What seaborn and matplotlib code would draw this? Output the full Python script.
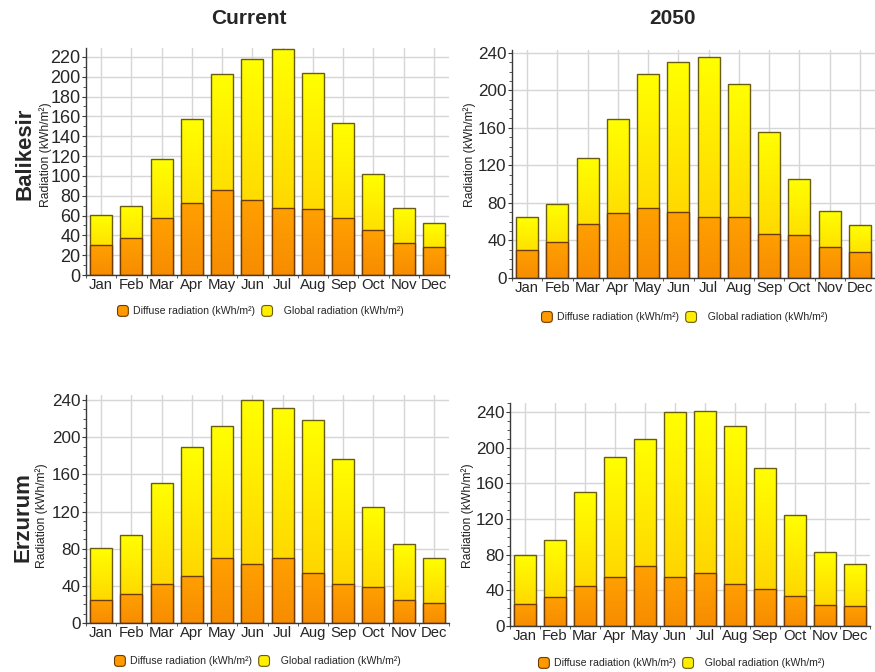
import numpy as np
import pandas as pd
import matplotlib
matplotlib.use("Agg")
import matplotlib.pyplot as plt
import seaborn as sns
from matplotlib.patches import FancyBboxPatch, Patch
from matplotlib.legend_handler import HandlerPatch
from matplotlib.ticker import MultipleLocator, FixedLocator
from matplotlib.colors import LinearSegmentedColormap

# Monthly radiation totals (kWh/m2)
months = ["Jan", "Feb", "Mar", "Apr", "May", "Jun",
          "Jul", "Aug", "Sep", "Oct", "Nov", "Dec"]

balikesir_current_global = [61, 70, 117, 157, 203, 218, 228, 204, 153, 102, 68, 52]
balikesir_current_diffuse = [30, 37, 57, 73, 86, 76, 68, 67, 57, 45, 32, 28]

balikesir_2050_global = [65, 79, 128, 169, 217, 230, 236, 207, 156, 106, 71, 56]
balikesir_2050_diffuse = [30, 38, 58, 69, 75, 70, 65, 65, 47, 46, 33, 28]

erzurum_current_global = [81, 95, 151, 189, 212, 240, 232, 219, 177, 125, 85, 70]
erzurum_current_diffuse = [25, 31, 42, 51, 70, 63, 70, 54, 42, 39, 25, 22]

erzurum_2050_global = [80, 96, 150, 190, 210, 240, 241, 224, 177, 124, 83, 69]
erzurum_2050_diffuse = [25, 33, 45, 55, 67, 55, 59, 47, 42, 34, 24, 22]

column_titles = ["Current", "2050"]
row_titles = ["Balikesir", "Erzurum"]
y_label = "Radiation (kWh/m²)"
diffuse_label = "Diffuse radiation (kWh/m²)"
global_label = "  Global radiation (kWh/m²)"

sns.set_style("white")
plt.rcParams["font.family"] = ["Liberation Sans", "DejaVu Sans"]

W, H = 875, 672
fig = plt.figure(figsize=(W / 100, H / 100), dpi=100)


def fx(px):
    return px / W


def fy(py):
    return 1 - py / H


YELLOW_TOP, YELLOW_BOT = "#ffff00", "#ffc800"
ORANGE_TOP, ORANGE_BOT = "#ffa000", "#f78c00"
YELLOW_EDGE, ORANGE_EDGE = "#6a5c10", "#6e3a05"


def gradient_fill(ax, bars, top, bottom, z):
    cmap = LinearSegmentedColormap.from_list("grad", [bottom, top])
    grad = np.linspace(0, 1, 256).reshape(-1, 1)
    for bar in bars:
        x0, y0 = bar.get_x(), bar.get_y()
        w, h = bar.get_width(), bar.get_height()
        im = ax.imshow(grad, extent=[x0, x0 + w, y0, y0 + h], origin="lower",
                       cmap=cmap, aspect="auto", zorder=z,
                       interpolation="bilinear")
        im.set_clip_path(bar)
        bar.set_facecolor("none")
        bar.set_zorder(z + 0.05)


class RoundBoxHandler(HandlerPatch):
    def create_artists(self, legend, orig_handle, xdescent, ydescent,
                       width, height, fontsize, trans):
        s = min(width, height)
        x = -xdescent + (width - s) / 2
        y = -ydescent + (height - s) / 2
        p = FancyBboxPatch((x, y), s, s,
                           boxstyle=f"round,pad=0,rounding_size={s * 0.3}",
                           facecolor=orig_handle.get_facecolor(),
                           edgecolor=orig_handle.get_edgecolor(),
                           lw=0.8, transform=trans)
        return [p]


def draw_panel(rect, glob, diff, ymax, ystep, tick_fs, legend_xy):
    ax = fig.add_axes(rect)
    df = pd.DataFrame({"month": months, "global": glob, "diffuse": diff})

    n0 = len(ax.patches)
    sns.barplot(data=df, x="month", y="global", order=months, color=YELLOW_TOP,
                width=0.72, edgecolor=YELLOW_EDGE, linewidth=1.0, ax=ax)
    g_bars = ax.patches[n0:]
    n1 = len(ax.patches)
    sns.barplot(data=df, x="month", y="diffuse", order=months, color=ORANGE_TOP,
                width=0.72, edgecolor=ORANGE_EDGE, linewidth=1.0, ax=ax)
    d_bars = ax.patches[n1:]

    gradient_fill(ax, g_bars, YELLOW_TOP, YELLOW_BOT, 2.0)
    gradient_fill(ax, d_bars, ORANGE_TOP, ORANGE_BOT, 2.2)

    ax.set_xlim(-0.5, len(months) - 0.5)
    ax.set_ylim(0, ymax)
    ax.set_xlabel("")
    ax.set_ylabel("")

    ax.yaxis.set_major_locator(MultipleLocator(ystep))
    ax.yaxis.set_minor_locator(MultipleLocator(10))
    ax.xaxis.set_minor_locator(FixedLocator(np.arange(len(months) + 1) - 0.5))

    ax.grid(True, which="major", color="#d6d6d6", linewidth=1.0, zorder=0)
    ax.set_axisbelow(True)

    for side in ["top", "right"]:
        ax.spines[side].set_visible(False)
    for side in ["left", "bottom"]:
        ax.spines[side].set_color("#3a3a3a")
        ax.spines[side].set_linewidth(1.0)
        ax.spines[side].set_zorder(3)

    ax.tick_params(axis="y", which="major", length=3, width=0.8, pad=1,
                   labelsize=tick_fs, color="#3a3a3a", left=True)
    ax.tick_params(axis="y", which="minor", length=2, width=0.6,
                   color="#3a3a3a", left=True)
    ax.tick_params(axis="x", which="major", length=0, pad=2, labelsize=10.7)
    ax.tick_params(axis="x", which="minor", length=2.5, width=0.6,
                   color="#3a3a3a", bottom=True)

    handles = [Patch(facecolor="#ff9900", edgecolor=ORANGE_EDGE, label=diffuse_label),
               Patch(facecolor="#ffee00", edgecolor=YELLOW_EDGE, label=global_label)]
    fig.legend(handles=handles, loc="center",
               bbox_to_anchor=(fx(legend_xy[0]), fy(legend_xy[1])),
               ncol=2, frameon=False, fontsize=7.6,
               handler_map={Patch: RoundBoxHandler()},
               handlelength=1.2, handleheight=1.2,
               handletextpad=0.4, columnspacing=0.5, borderpad=0)
    return ax


panels = [
    ([fx(86), fy(275), fx(363), 227 / H], balikesir_current_global,
     balikesir_current_diffuse, 229, 20, 13, (260, 311), (46, 155)),
    ([fx(512), fy(278), fx(363), 228 / H], balikesir_2050_global,
     balikesir_2050_diffuse, 243, 40, 12.3, (684, 317), (470, 155)),
    ([fx(86), fy(623), fx(363), 228 / H], erzurum_current_global,
     erzurum_current_diffuse, 245.5, 40, 12.3, (257, 661), (42, 516)),
    ([fx(510), fy(626), fx(360), 223 / H], erzurum_2050_global,
     erzurum_2050_diffuse, 250, 40, 12.3, (681, 663), (468, 516)),
]

for rect, glob, diff, ymax, ystep, tfs, leg, ylab in panels:
    draw_panel(rect, glob, diff, ymax, ystep, tfs, leg)
    fig.text(fx(ylab[0]), fy(ylab[1]), y_label, rotation=90,
             ha="center", va="center", fontsize=8.7, color="#222222")

fig.text(fx(249), fy(18), column_titles[0], ha="center", va="center",
         fontsize=15, fontweight="bold")
fig.text(fx(672), fy(18), column_titles[1], ha="center", va="center",
         fontsize=15, fontweight="bold")

fig.text(fx(25), fy(154), row_titles[0], rotation=90, ha="center",
         va="center", fontsize=16, fontweight="bold")
fig.text(fx(23.5), fy(517), row_titles[1], rotation=90, ha="center",
         va="center", fontsize=16, fontweight="bold")

fig.savefig("out.png", dpi=100)
